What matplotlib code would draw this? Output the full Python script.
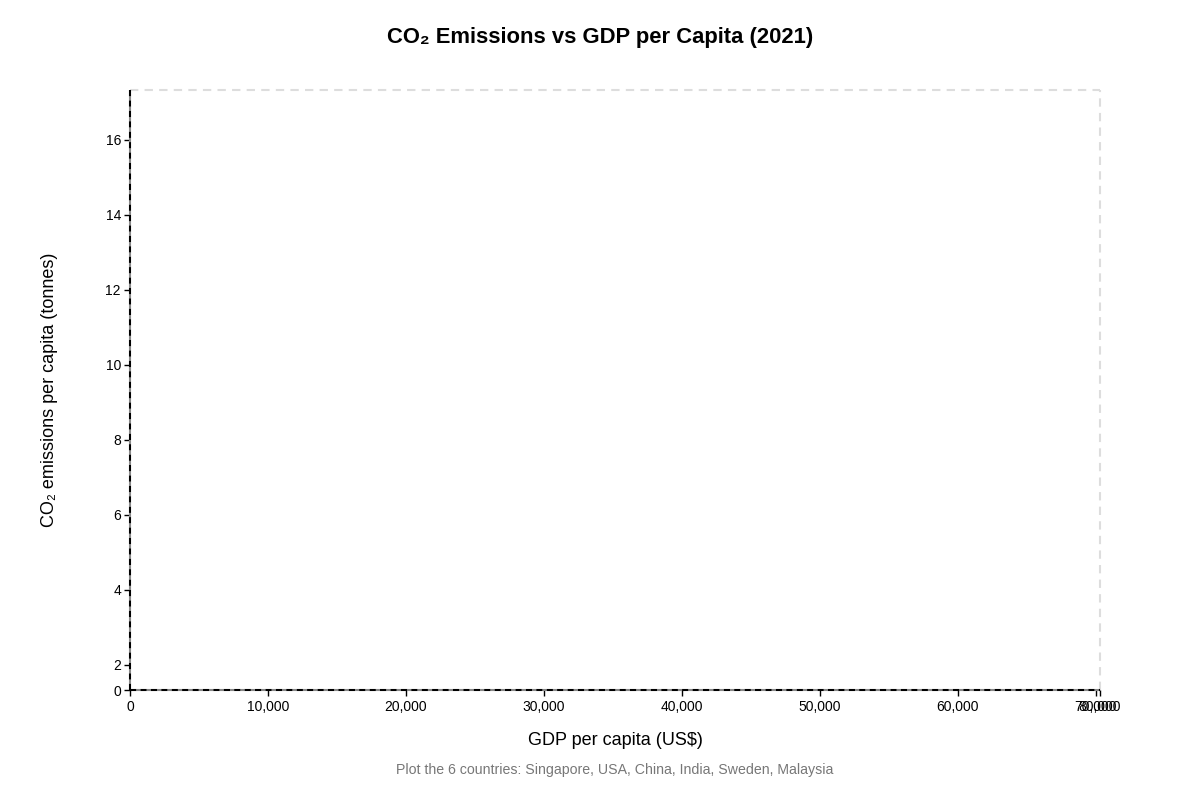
import matplotlib
matplotlib.use("Agg")
import matplotlib.pyplot as plt

plt.rcParams['font.family'] = ['Liberation Sans', 'DejaVu Sans']

# Data (no points are rendered in the reference chart)
countries = ["Singapore", "USA", "China", "India", "Sweden", "Malaysia"]
gdp_per_capita = []
co2_per_capita = []

x_min, x_max = 0, 70290
y_min, y_max = 1.333, 17.333
x_ticks = [0, 10000, 20000, 30000, 40000, 50000, 60000, 70000, x_max]
x_tick_labels = ["0", "10,000", "20,000", "30,000", "40,000", "50,000", "60,000", "70,000", "80,000"]
y_ticks = [y_min, 2, 4, 6, 8, 10, 12, 14, 16]
y_tick_labels = ["0", "2", "4", "6", "8", "10", "12", "14", "16"]

fig = plt.figure(figsize=(12, 8), dpi=100)
ax = fig.add_axes([130/1200, 110/800, 970/1200, 600/800])

ax.scatter(gdp_per_capita, co2_per_capita)

ax.set_xlim(x_min, x_max)
ax.set_ylim(y_min, y_max)
ax.set_xticks(x_ticks)
ax.set_xticklabels(x_tick_labels)
ax.set_yticks(y_ticks)
ax.set_yticklabels(y_tick_labels)
ax.tick_params(axis='both', labelsize=10, length=4, width=1, color='black', labelcolor='black')
ax.tick_params(axis='x', pad=3)
ax.tick_params(axis='y', pad=2.5)

for s in ax.spines.values():
    s.set_visible(False)

# top/right light dashed border
ax.plot([x_min, x_max], [y_max, y_max], color='#dddddd', lw=1.5, ls=(0, (4, 3)), clip_on=False, zorder=1)
ax.plot([x_max, x_max], [y_min, y_max], color='#dddddd', lw=1.5, ls=(0, (4, 3)), clip_on=False, zorder=1)
# left/bottom dark dashed axes
ax.plot([x_min, x_max], [y_min, y_min], color='black', gapcolor='#888888', lw=1.5, ls=(0, (3, 2)), clip_on=False, zorder=3)
ax.plot([x_min, x_min], [y_min, y_max], color='black', gapcolor='#888888', lw=1.5, ls=(0, (3, 2)), clip_on=False, zorder=3)

ax.set_xlabel("GDP per capita (US$)", fontsize=13, labelpad=13)
ax.set_ylabel("CO₂ emissions per capita (tonnes)", fontsize=13, labelpad=34)

fig.text(0.5, 1 - 38/800, "CO₂ Emissions vs GDP per Capita (2021)", ha='center', va='center',
         fontsize=15.8, fontweight='bold')
fig.text(615/1200, 1 - 770/800, "Plot the 6 countries: " + ", ".join(countries), ha='center', va='center',
         fontsize=10.2, color='#777777')

fig.savefig("out.png", dpi=100)
